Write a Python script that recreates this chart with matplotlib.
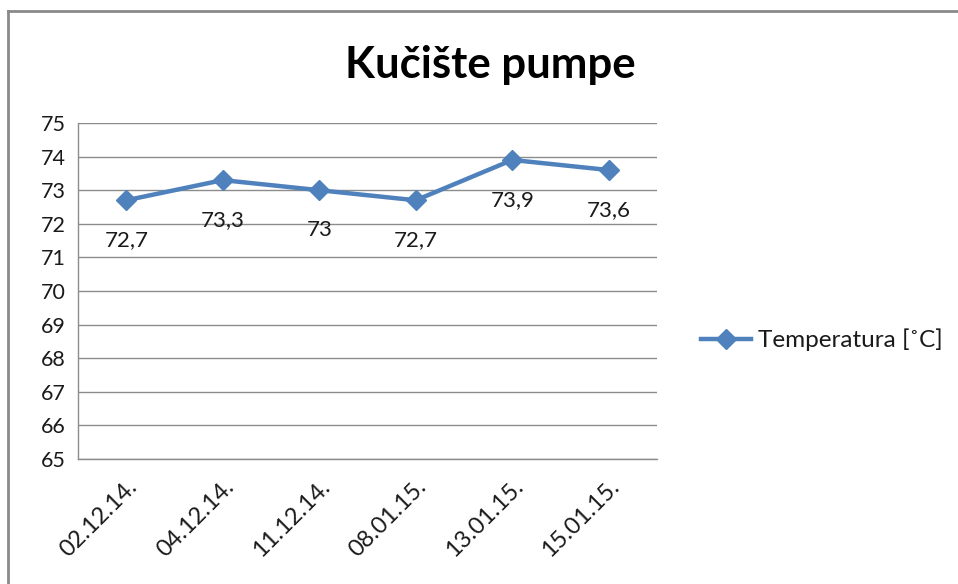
import matplotlib
matplotlib.use("Agg")
import matplotlib.pyplot as plt
from matplotlib.lines import Line2D

# data
dates = ["02.12.14.", "04.12.14.", "11.12.14.", "08.01.15.", "13.01.15.", "15.01.15."]
temps = [72.7, 73.3, 73.0, 72.7, 73.9, 73.6]
value_labels = ["72,7", "73,3", "73", "72,7", "73,9", "73,6"]
y_ticks = list(range(65, 76))

LINE = "#4F81BD"
GRID = "#8C8C8C"
TEXT = "#1A1A1A"

plt.rcParams["font.family"] = ["Lato", "DejaVu Sans"]

fig = plt.figure(figsize=(9.58, 5.84), dpi=100)
fig.patch.set_facecolor("white")

# outer chart-area border: only top and left edges are inside the screenshot
bx, by = 7.5 / 958, 1 - 11 / 584
fig.add_artist(Line2D([bx, 1.0], [by, by], transform=fig.transFigure,
                      color="#8A8A8A", linewidth=2))
fig.add_artist(Line2D([bx, bx], [0.0, by], transform=fig.transFigure,
                      color="#8A8A8A", linewidth=2))

ax = fig.add_axes([78 / 958, 125 / 584, 579 / 958, 336 / 584])
x = range(len(dates))
ax.plot(x, temps, color=LINE, linewidth=3.2, marker="D", markersize=10,
        label="Temperatura [˚C]", zorder=3)

for xi, yi, lab in zip(x, temps, value_labels):
    ax.annotate(lab, (xi, yi), xytext=(0, -29), textcoords="offset points",
                ha="center", va="center", fontsize=16, color=TEXT)

ax.set_xlim(-0.5, len(dates) - 0.5)
ax.set_ylim(65, 75)
ax.set_yticks(y_ticks)
ax.set_xticks(list(x))
ax.set_xticklabels(dates, rotation=45, ha="right", rotation_mode="anchor",
                   fontsize=17, color=TEXT)
ax.tick_params(axis="y", labelsize=15.5, labelcolor=TEXT, length=0, pad=9)
ax.tick_params(axis="x", length=0, pad=12)

ax.grid(axis="y", color=GRID, linewidth=1)
ax.set_axisbelow(True)
for side in ("top", "right"):
    ax.spines[side].set_visible(False)
for side in ("left", "bottom"):
    ax.spines[side].set_color(GRID)
    ax.spines[side].set_linewidth(1)

fig.text(490 / 958, 1 - 65 / 584, "Kučište pumpe", ha="center", va="center",
         fontsize=31.5, fontweight="bold", color="black")

fig.legend(loc="center left", bbox_to_anchor=(679 / 958, 1 - 340 / 584),
           frameon=False, fontsize=17.5, handlelength=2.05, handletextpad=0.3,
           labelcolor=TEXT)

fig.savefig("out.png", dpi=100, facecolor="white")
